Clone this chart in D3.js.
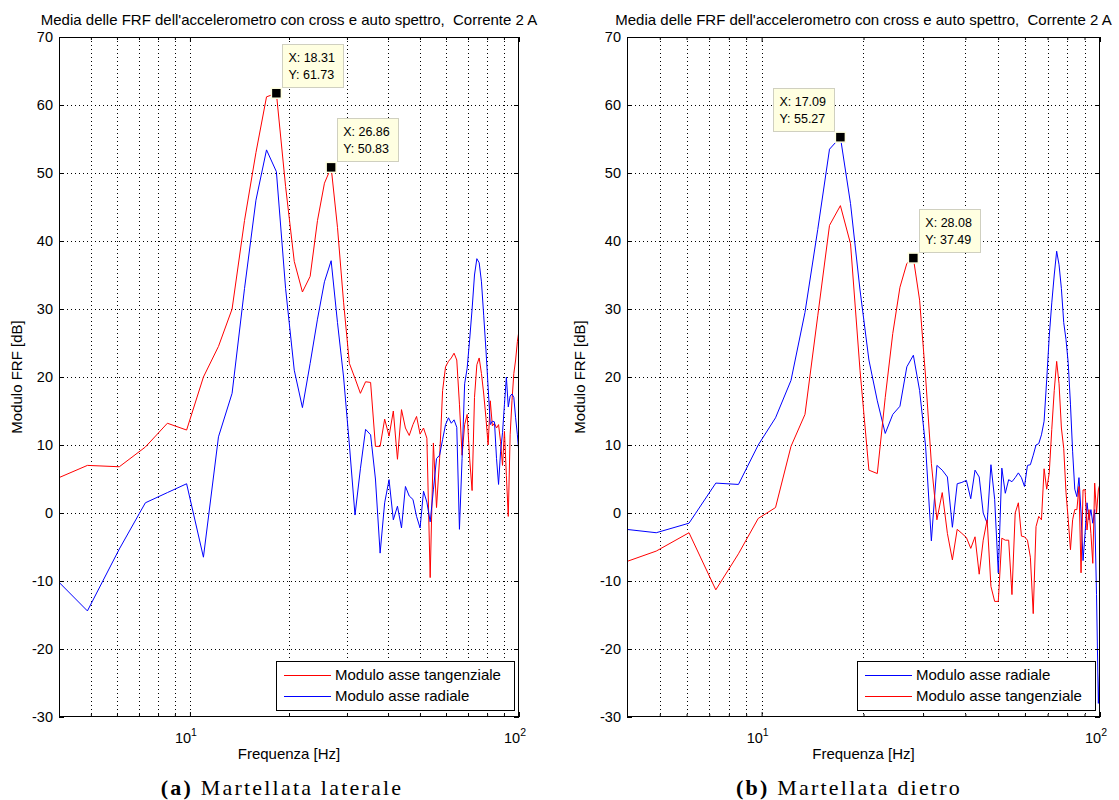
<!DOCTYPE html>
<html>
<head>
<meta charset="utf-8">
<script src="https://cdn.jsdelivr.net/npm/d3@7"></script>
<style>
  body { margin: 0; background: #fff; }
  svg text { font-family: "Liberation Sans", Arial, sans-serif; fill: #000; white-space: pre; }
</style>
</head>
<body>
<svg id="chart" width="1119" height="800"></svg>
<script>
// frequency bins of the averaged FRF (Hz)
const freqHz = [
  3.66, 4.88, 6.10, 7.32, 8.54, 9.77, 10.99, 12.21, 13.43, 14.65,
  15.87, 17.09, 18.31, 19.53, 20.75, 21.97, 23.19, 24.41, 25.63, 26.86,
  28.08, 29.30, 30.52, 31.74, 32.96, 34.18, 35.40, 36.62, 37.84, 39.06,
  40.28, 41.50, 42.72, 43.95, 45.17, 46.39, 47.61, 48.83, 50.05, 51.27,
  52.49, 53.71, 54.93, 56.15, 57.37, 58.59, 59.81, 61.04, 62.26, 63.48,
  64.70, 65.92, 67.14, 68.36, 69.58, 70.80, 72.02, 73.24, 74.46, 75.68,
  76.90, 78.13, 79.35, 80.57, 81.79, 83.01, 84.23, 85.45, 86.67, 87.89,
  89.11, 90.33, 91.55, 92.77, 93.99, 95.21, 96.44, 97.66, 98.88, 100.10
];

// (a) Martellata laterale
const lateraleTangenziale = [
  4.4, 7.0, 6.8, 9.7, 13.2, 12.2, 20.0, 24.5, 30.0, 43.0,
  53.0, 61.2, 61.73, 48.0, 37.0, 32.5, 34.8, 43.0, 48.5, 50.83,
  42.0, 31.0, 22.0, 19.8, 17.6, 19.3, 19.2, 9.8, 9.8, 13.8,
  11.3, 15.0, 7.9, 15.2, 12.5, 11.4, 13.0, 14.2, 11.6, 12.5,
  11.0, -9.5, 10.3, 0.8, 8.0, 18.0, 21.5, 22.3, 22.8, 23.5,
  22.5, 16.0, 8.5, 13.0, 14.5, 8.0, 3.3, 17.0, 21.8, 22.8,
  20.5, 17.5, 14.0, 10.0, 16.5, 12.8, 13.2, 12.5, 13.0, 10.5,
  7.0, 12.0, 5.5, -0.5, 11.5, 16.5, 20.5, 22.5, 25.2, 27.0
];
const lateraleRadiale = [
  -8.3, -14.4, -5.3, 1.5, 3.0, 4.3, -6.5, 11.2, 17.6, 33.0,
  46.0, 53.4, 50.2, 33.0, 21.0, 15.5, 22.0, 28.5, 34.0, 37.1,
  28.0, 20.0, 10.0, -0.3, 6.5, 12.3, 11.5, 5.0, -5.9, 1.5,
  4.9, -1.0, 1.0, -2.2, 3.9, 2.5, 2.0, -0.5, -2.2, 3.2,
  1.6, -1.3, 3.4, 8.0, 8.5, 10.8, 13.0, 14.0, 13.2, 13.7,
  12.6, -2.4, 8.0, 19.0, 21.3, 25.5, 30.0, 35.0, 37.4, 36.8,
  34.0, 29.0, 24.0, 18.5, 13.0, 13.5, 13.4, 8.0, 4.2, 9.0,
  11.8, 16.0, 20.0, 15.6, 17.2, 17.5, 17.0, 14.0, 11.5, 8.3
];

// (b) Martellata dietro
const dietroRadiale = [
  -2.2, -2.9, -1.5, 4.4, 4.2, 10.0, 14.0, 19.5, 29.5, 41.7,
  53.5, 55.27, 45.5, 32.8, 22.5, 16.5, 11.7, 14.5, 15.7, 21.5,
  23.2, 18.0, 9.8, -4.1, 7.0, 6.3, 5.3, -2.1, 4.3, 4.5,
  4.8, 2.1, 6.3, 5.3, 0.0, -1.5, 7.1, 2.0, -8.8, 6.6,
  2.9, 4.9, 4.6, 5.2, 5.9, 5.2, 3.9, 7.0, 7.1, 8.5,
  10.0, 10.2, 11.5, 13.5, 19.6, 26.0, 30.9, 35.0, 38.5, 36.5,
  33.0, 28.0, 25.5, 22.0, 16.0, 9.0, 3.5, 2.4, 5.2, 0.0,
  -7.0, -3.0, 1.5, -1.0, 0.5, -1.5, 0.5, -12.0, -28.0, -21.0
];
const dietroTangenziale = [
  -7.8, -5.6, -2.9, -11.3, -6.0, -0.8, 0.8, 9.8, 14.5, 29.0,
  42.3, 45.2, 39.6, 21.0, 6.3, 5.8, 17.0, 26.4, 33.2, 36.7,
  37.49, 31.3, 20.0, 7.3, -1.0, 3.0, -3.0, -6.9, -2.4, -3.0,
  -3.6, -5.2, -3.5, -9.0, -4.0, -1.0, -10.8, -13.0, -13.0, -3.7,
  -4.0, -4.0, -12.0, 0.0, 1.5, -3.4, -3.5, -4.0, -6.5, -14.8,
  -2.0, -0.5, -1.0, 6.5, 3.5, 5.9, 12.3, 18.0, 22.3, 19.0,
  12.5, 9.5, 3.0, -1.0, -5.4, -1.0, 0.5, 0.5, 3.9, -8.8,
  3.4, 3.4, -2.5, 0.5, -3.0, -7.4, 4.4, 0.0, 3.4, 4.4
];

const yTicks = [-30, -20, -10, 0, 10, 20, 30, 40, 50, 60, 70];
const xMajor = [10, 100];
const xMinor = [5, 6, 7, 8, 9, 20, 30, 40, 50, 60, 70, 80, 90];
const xDomain = [4, 100];
const yDomain = [-30, 70];

const titleText = "Media delle FRF dell'accelerometro con cross e auto spettro,  Corrente 2 A";

const svg = d3.select('#chart');

function drawPanel(p) {
	const x = d3.scaleLog().domain(xDomain).range([p.left, p.right]);
	const y = d3.scaleLinear().domain(yDomain).range([p.bottom, p.top]);
	const g = svg.append('g');

	// dotted grid
	g.append('g').selectAll('line')
		.data(xMinor.concat([10]))
		.enter().append('line')
		.attr('x1', d => Math.round(x(d)) + 0.5)
		.attr('x2', d => Math.round(x(d)) + 0.5)
		.attr('y1', p.top)
		.attr('y2', p.bottom)
		.attr('stroke', '#000')
		.attr('stroke-width', 1)
		.attr('stroke-dasharray', '1,3')
	;
	g.append('g').selectAll('line')
		.data(yTicks.slice(1, -1))
		.enter().append('line')
		.attr('x1', p.left)
		.attr('x2', p.right)
		.attr('y1', d => Math.round(y(d)) + 0.5)
		.attr('y2', d => Math.round(y(d)) + 0.5)
		.attr('stroke', '#000')
		.attr('stroke-width', 1)
		.attr('stroke-dasharray', '1,3')
	;

	// curves
	const clipId = 'clip-' + p.id;
	svg.append('clipPath').attr('id', clipId)
		.append('rect')
		.attr('x', p.left).attr('y', p.top)
		.attr('width', p.right - p.left).attr('height', p.bottom - p.top)
	;
	const line = d3.line().x((d, i) => x(freqHz[i])).y(d => y(d));
	p.series.forEach(s => {
		g.append('path')
			.attr('d', line(s.values))
			.attr('fill', 'none')
			.attr('stroke', s.color)
			.attr('stroke-width', 1)
			.attr('clip-path', 'url(#' + clipId + ')')
		;
	});

	// axes with inward ticks
	const axL = d3.axisLeft(y).tickValues(yTicks).tickSizeInner(-5).tickSizeOuter(0).tickPadding(6)
		.tickFormat(d => String(d));
	const axR = d3.axisRight(y).tickValues(yTicks).tickSizeInner(-5).tickSizeOuter(0).tickFormat('');
	const axB = d3.axisBottom(x).tickValues(xMajor).tickSizeInner(-5).tickSizeOuter(0).tickFormat('');
	const axT = d3.axisTop(x).tickValues(xMajor).tickSizeInner(-5).tickSizeOuter(0).tickFormat('');
	const axBm = d3.axisBottom(x).tickValues(xMinor).tickSizeInner(-3).tickSizeOuter(0).tickFormat('');
	const axTm = d3.axisTop(x).tickValues(xMinor).tickSizeInner(-3).tickSizeOuter(0).tickFormat('');

	const axes = [
		[axL, `translate(${p.left},0)`],
		[axR, `translate(${p.right},0)`],
		[axB, `translate(0,${p.bottom})`],
		[axT, `translate(0,${p.top})`],
		[axBm, `translate(0,${p.bottom})`],
		[axTm, `translate(0,${p.top})`]
	];
	axes.forEach(a => {
		const ag = g.append('g').attr('transform', a[1]).call(a[0]);
		ag.select('.domain').remove();
		ag.selectAll('line').attr('stroke', '#000');
		ag.selectAll('text').attr('font-size', 14.5).attr('font-family', null);
	});

	// box
	g.append('rect')
		.attr('x', p.left + 0.5).attr('y', p.top + 0.5)
		.attr('width', p.right - p.left - 1).attr('height', p.bottom - p.top - 1)
		.attr('fill', 'none').attr('stroke', '#000')
	;

	// 10^n labels
	xMajor.forEach(v => {
		const t = g.append('text')
			.attr('x', x(v) - 4)
			.attr('y', p.bottom + 26)
			.attr('text-anchor', 'middle')
			.attr('font-size', 14.5)
			.text('10');
		t.append('tspan').attr('dy', -7).attr('font-size', 10.5).text(Math.log10(v));
	});

	// titles
	g.append('text')
		.attr('x', (p.left + p.right) / 2).attr('y', 25)
		.attr('text-anchor', 'middle').attr('font-size', 15)
		.text(titleText);
	g.append('text')
		.attr('x', (p.left + p.right) / 2).attr('y', p.bottom + 42)
		.attr('text-anchor', 'middle').attr('font-size', 15)
		.text('Frequenza [Hz]');
	g.append('text')
		.attr('transform', `translate(${p.ylabelX},${(p.top + p.bottom) / 2}) rotate(-90)`)
		.attr('text-anchor', 'middle').attr('font-size', 15)
		.text('Modulo FRF [dB]');

	// legend
	const lw = 238, lh = 49;
	const lx = p.right - 5 - lw, ly = p.bottom - 7 - lh;
	const lg = g.append('g').attr('transform', `translate(${lx},${ly})`);
	lg.append('rect')
		.attr('x', 0.5).attr('y', 0.5).attr('width', lw).attr('height', lh)
		.attr('fill', '#fff').attr('stroke', '#000');
	p.legend.forEach((s, i) => {
		const ry = 14 + i * 21;
		lg.append('line')
			.attr('x1', 8).attr('x2', 55).attr('y1', ry + 0.5).attr('y2', ry + 0.5)
			.attr('stroke', s.color);
		lg.append('text')
			.attr('x', 59).attr('y', ry + 5)
			.attr('font-size', 15)
			.text(s.name);
	});

	// data tips
	p.tips.forEach(t => {
		const mx = x(t.f), my = y(t.v);
		const bw = 61, bh = 43;
		const bx = t.side === 'right' ? mx + 6 : mx - 6 - bw;
		const by = my - 6 - bh;
		g.append('rect')
			.attr('x', Math.round(bx) + 0.5).attr('y', Math.round(by) + 0.5)
			.attr('width', bw).attr('height', bh)
			.attr('fill', '#ffffe1').attr('stroke', '#d0d0c0');
		g.append('text')
			.attr('x', bx + 6).attr('y', by + 18)
			.attr('font-size', 12.5)
			.text('X: ' + t.f.toFixed(2));
		g.append('text')
			.attr('x', bx + 6).attr('y', by + 35)
			.attr('font-size', 12.5)
			.text('Y: ' + t.v.toFixed(2));
		g.append('rect')
			.attr('x', mx - 5).attr('y', my - 5)
			.attr('width', 10).attr('height', 10)
			.attr('fill', '#000').attr('stroke', '#ffffe1').attr('stroke-width', 1.5);
	});

	// caption
	const cap = g.append('text')
		.attr('x', p.captionX).attr('y', 795)
		.attr('text-anchor', 'middle')
		.attr('font-size', 22)
		.attr('letter-spacing', 2.2)
		.style('font-family', '"Liberation Serif", "DejaVu Serif", serif');
	cap.append('tspan').attr('font-weight', 'bold').text(p.caption[0]);
	cap.append('tspan').text(' ' + p.caption[1]);
}

const red = '#ff0000', blue = '#0000ff';

drawPanel({
	id: 'a', left: 59, right: 519, top: 37, bottom: 717, ylabelX: 22, captionX: 282,
	series: [
		{values: lateraleTangenziale, color: red},
		{values: lateraleRadiale, color: blue}
	],
	legend: [
		{name: 'Modulo asse tangenziale', color: red},
		{name: 'Modulo asse radiale', color: blue}
	],
	tips: [
		{f: 18.31, v: 61.73, side: 'right'},
		{f: 26.86, v: 50.83, side: 'right'}
	],
	caption: ['(a)', 'Martellata laterale']
});

drawPanel({
	id: 'b', left: 627, right: 1100, top: 37, bottom: 717, ylabelX: 585, captionX: 849,
	series: [
		{values: dietroRadiale, color: blue},
		{values: dietroTangenziale, color: red}
	],
	legend: [
		{name: 'Modulo asse radiale', color: blue},
		{name: 'Modulo asse tangenziale', color: red}
	],
	tips: [
		{f: 17.09, v: 55.27, side: 'left'},
		{f: 28.08, v: 37.49, side: 'right'}
	],
	caption: ['(b)', 'Martellata dietro']
});
</script>
</body>
</html>
